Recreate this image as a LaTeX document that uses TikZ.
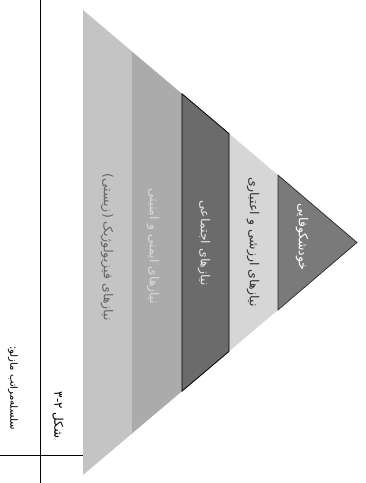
\documentclass[tikz,border=0pt]{standalone}
\usepackage{fontspec}
\newfontfamily\arabicfont[Script=Arabic]{DejaVu Sans}
\TeXXeTstate=1
\definecolor{bandA}{HTML}{C4C4C4}
\definecolor{bandB}{HTML}{ABABAB}
\definecolor{bandC}{HTML}{6B6B6B}
\definecolor{bandD}{HTML}{D6D6D6}
\definecolor{bandE}{HTML}{7A7A7A}
\begin{document}
\begin{tikzpicture}[x=1pt,y=-1pt,
  lbl/.style={font=\arabicfont\fontsize{12.5}{14}\selectfont, rotate=-90, inner sep=0pt},
  captext/.style={font=\arabicfont\fontsize{10}{12}\selectfont, rotate=-90, inner sep=0pt, text=black},
  rule/.style={draw=black, line width=0.7pt}]
\useasboundingbox (0,0) rectangle (366,483);
\fill[white] (0,0) rectangle (366,483);
% pyramid bands (base at left, apex at right)
\fill[bandA] (83,10) -- (132,51.5) -- (132,433.5) -- (83,475) -- cycle;
\fill[bandB] (132,51.5) -- (182,93.8) -- (182,391.2) -- (132,433.5) -- cycle;
\fill[bandD] (229,133.6) -- (278,175.1) -- (278,309.9) -- (229,351.4) -- cycle;
\filldraw[fill=bandC, draw=black, line width=0.8pt] (182,93.8) -- (229,133.6) -- (229,351.4) -- (182,391.2) -- cycle;
\filldraw[fill=bandE, draw=black!85, line width=0.7pt] (278,175.1) -- (357,242.5) -- (278,309.9) -- cycle;
% band labels
\node[lbl, text=black!60] (physio) at (107,247) {\beginR نیازهای فیزیولوژیک (زیستی)\endR};
\node[lbl, text=black!15] (safety) at (153,246) {\beginR نیازهای ایمنی و امنیتی\endR};
\node[lbl, text=black!10] (social) at (204,243) {\beginR نیازهای اجتماعی\endR};
\node[lbl, text=black!80] (esteem) at (253,242) {\beginR نیازهای ارزشی و اعتباری\endR};
\node[lbl, text=white] (self) at (302,237) {\beginR خودشکوفایی\endR};
% caption rules
\coordinate (vtop) at (40,0);
\coordinate (vbot) at (40,483);
\coordinate (hl) at (0,455);
\coordinate (hr) at (83,455);
\draw[rule] (vtop) -- (vbot);
\draw[rule] (hl) -- (hr);
% caption texts
\node[captext, font=\arabicfont\fontsize{12}{14}\selectfont] (fignum) at (58,415) {\beginR شکل \beginL۳-۲\endL\endR};
\node[captext] (figcap) at (13,388) {\beginR سلسله‌مراتب مازلو:\endR};
\end{tikzpicture}
\end{document}
